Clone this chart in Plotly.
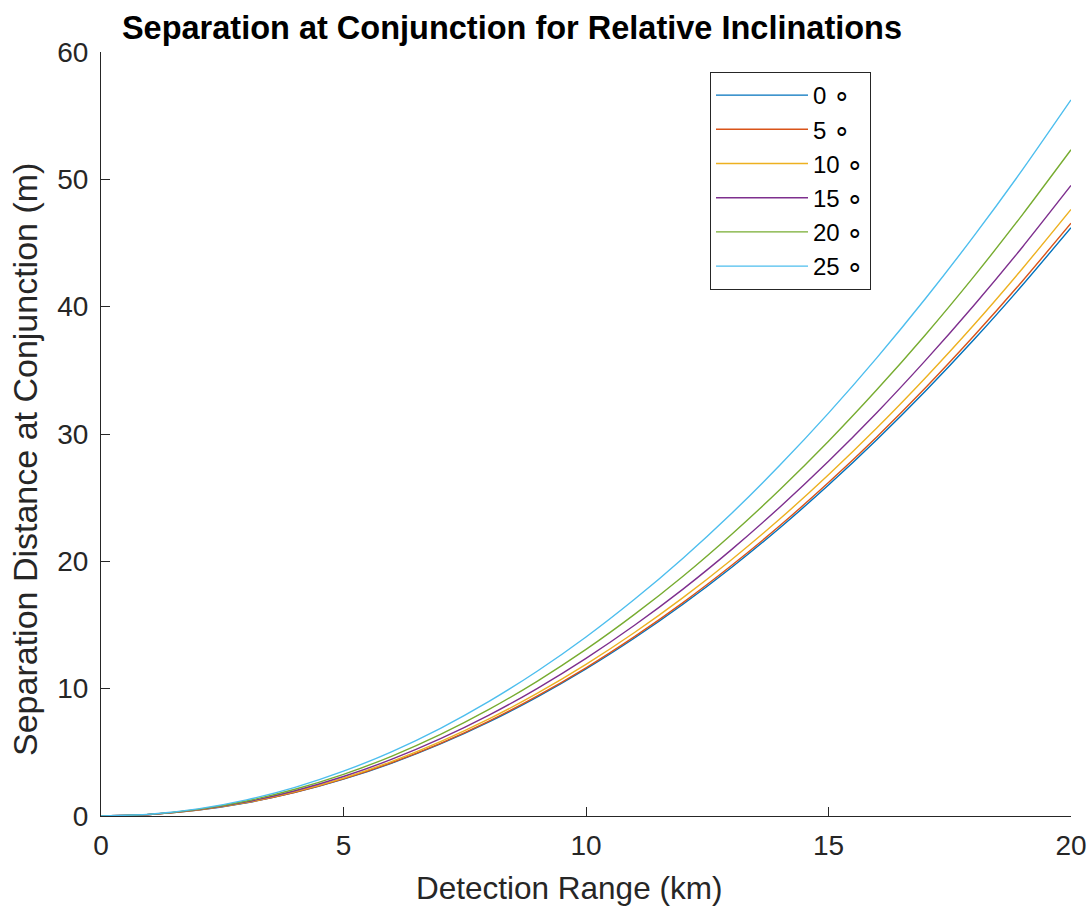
import plotly.graph_objects as go

range_km = list(range(0, 21))
sep_0 = [0, 0.12, 0.46, 1.04, 1.85, 2.89, 4.16, 5.66, 7.39, 9.36, 11.55, 13.98, 16.63, 19.52, 22.64, 25.99, 29.57, 33.38, 37.42, 41.70, 46.20]
sep_5 = [0, 0.12, 0.47, 1.05, 1.86, 2.91, 4.19, 5.70, 7.45, 9.43, 11.64, 14.09, 16.76, 19.67, 22.81, 26.19, 29.79, 33.63, 37.71, 42.02, 46.55]
sep_10 = [0, 0.12, 0.48, 1.07, 1.91, 2.98, 4.29, 5.84, 7.62, 9.65, 11.91, 14.41, 17.15, 20.13, 23.34, 26.80, 30.49, 34.42, 38.58, 43.00, 47.64]
sep_15 = [0, 0.12, 0.50, 1.11, 1.98, 3.10, 4.46, 6.07, 7.92, 10.03, 12.38, 14.98, 17.82, 20.92, 24.27, 27.86, 31.69, 35.78, 40.11, 44.69, 49.52]
sep_20 = [0, 0.13, 0.52, 1.18, 2.10, 3.27, 4.71, 6.41, 8.37, 10.60, 13.08, 15.83, 18.83, 22.11, 25.64, 29.43, 33.49, 37.80, 42.38, 47.23, 52.32]
sep_25 = [0, 0.14, 0.56, 1.27, 2.25, 3.52, 5.06, 6.89, 9.00, 11.39, 14.06, 17.02, 20.25, 23.76, 27.56, 31.64, 36.00, 40.64, 45.56, 50.76, 56.24]

series = [sep_0, sep_5, sep_10, sep_15, sep_20, sep_25]
inclinations = ["0", "5", "10", "15", "20", "25"]
colors = ["#0072BD", "#D95319", "#EDB120", "#7E2F8E", "#77AC30", "#4DBEEE"]

x_ticks = [0, 5, 10, 15, 20]
y_ticks = [0, 10, 20, 30, 40, 50, 60]

fig = go.Figure()
for i, (ys, inc, col) in enumerate(zip(series, inclinations, colors)):
    fig.add_trace(go.Scatter(
        x=range_km, y=ys, mode="lines",
        name=inc + " <span style='font-size:28px'>\u2218</span>",
        line=dict(color=col, width=1.4, shape="spline", smoothing=0.6),
        legendgroup=f"g{i}",
    ))

font_family = "Liberation Sans, Arial, sans-serif"
W, H = 1089, 907
L, T, PW, PH = 101, 52, 970, 764
fig.update_layout(
    width=W, height=H,
    margin=dict(l=L, r=W - L - PW, t=T, b=H - T - PH, autoexpand=False),
    plot_bgcolor="white", paper_bgcolor="white",
    font=dict(family=font_family, color="#262626"),
    title=dict(text="<b>Separation at Conjunction for Relative Inclinations</b>",
               x=(512 - L) / PW, xref="paper", xanchor="center",
               y=1 - 28 / H, yref="container", yanchor="middle",
               font=dict(size=32.5, color="black", family=font_family)),
    xaxis=dict(range=[0, 20], tickvals=x_ticks, ticks="inside", ticklen=9,
               tickcolor="#262626", showline=True, linecolor="#262626", linewidth=1,
               showgrid=False, zeroline=False, tickfont=dict(size=28),
               ticklabelstandoff=4, automargin=False, ticklabeloverflow="allow"),
    yaxis=dict(range=[0, 60], tickvals=y_ticks, ticks="inside", ticklen=9,
               tickcolor="#262626", showline=True, linecolor="#262626", linewidth=1,
               showgrid=False, zeroline=False, tickfont=dict(size=28),
               ticklabelstandoff=6, automargin=False, ticklabeloverflow="allow"),
    legend=dict(x=(710 - L) / PW, y=(T + PH - 72) / PH, xanchor="left", yanchor="top",
                bordercolor="#262626", borderwidth=1, bgcolor="white",
                font=dict(size=24, color="black"), tracegroupgap=0, itemwidth=92),
    showlegend=True,
    annotations=[
        dict(text="Detection Range (km)", xref="paper", yref="paper",
             x=(569 - L) / PW, y=(T + PH - 888) / PH, xanchor="center", yanchor="middle",
             showarrow=False, font=dict(size=31.5, color="#262626")),
        dict(text="Separation Distance at Conjunction (m)", xref="paper", yref="paper",
             x=(25 - L) / PW, y=(T + PH - 460) / PH, xanchor="center", yanchor="middle",
             textangle=-90, showarrow=False, font=dict(size=34, color="#262626")),
    ],
)

fig.write_html("out.html", config={"displayModeBar": False},
               post_script="document.body.style.margin='0px';document.body.style.overflow='hidden';")
